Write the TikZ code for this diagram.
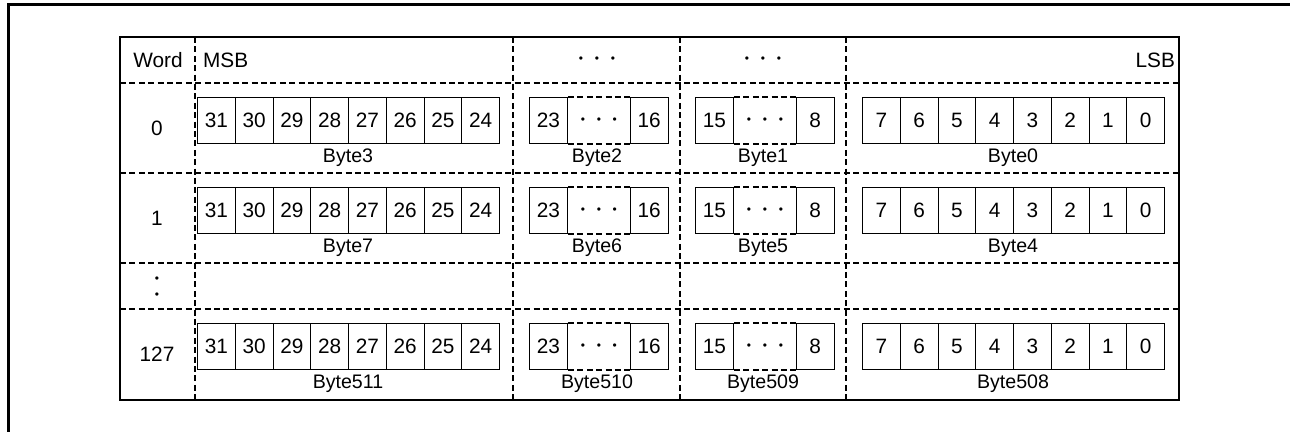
\documentclass[tikz,border=0pt]{standalone}
\usepackage{fontspec}
\setmainfont{Liberation Sans}
\usetikzlibrary{positioning}

\newcommand{\threedots}{{\fontsize{6}{8}\selectfont •\hspace{5.9pt}•\hspace{5.9pt}•}}

\begin{document}
\begin{tikzpicture}[x=0.5pt, y=-0.5pt,
        txt/.style={font=\fontsize{10.4}{12}\selectfont},
        bitbox/.style={draw, line width=0.6pt, minimum width=18.875pt, minimum height=23pt, inner sep=0pt, txt},
        gapbox/.style={minimum width=30.5pt, minimum height=23pt, inner sep=0pt, txt},
        bytelbl/.style={font=\fontsize{9.8}{11}\selectfont},
        gridline/.style={line width=1pt, dash pattern=on 3pt off 1.7pt},
        gapline/.style={line width=1pt, dash pattern=on 3pt off 1.7pt}]
        \useasboundingbox (0,0) rectangle (1290,432);
        % ==== FRAME ====
        \draw[line width=1.5pt] (8.5,432) -- (8.5,4.5) -- (1290,4.5);
        % ==== TABLE ====
        \draw[line width=0.7pt] (120,37) rectangle (1179,400);
        \foreach \yy in {83,173,263,309}
            \draw[gridline] (120,\yy) -- (1179,\yy);
        \foreach \xx in {195,513,680,846}
            \draw[gridline] (\xx,37) -- (\xx,400);
        % ==== HEADER ====
        \node[txt] (word) at (158,60) {Word};
        \node[txt, anchor=west] (msb) at (196,60) {MSB};
        \node[txt] (hd2) at (597,60) {\threedots};
        \node[txt] (hd1) at (763,60) {\threedots};
        \node[txt, anchor=east] (lsb) at (1182,60) {LSB};
        % ==== WORD NUMBERS ====
        \node[txt] (w0) at (157,128) {0};
        \node[txt] (w1) at (157,218) {1};
        \node[align=center, font=\fontsize{6}{8}\selectfont] (wdots) at (157,288) {•\\•};
        \node[txt] (w127) at (157,354) {127};
        % ==== BITS AND BYTES ====
        \foreach \r/\top/\n in {0/97/3, 1/187/7, 127/323/511}{
            \pgfmathtruncatemacro{\na}{\n-1}
            \pgfmathtruncatemacro{\nb}{\n-2}
            \pgfmathtruncatemacro{\nc}{\n-3}
            % upper byte
            \foreach \i in {0,...,7}{
                \pgfmathtruncatemacro{\bit}{31-\i}
                \node[bitbox, anchor=north west] (\r-b\bit) at ({197+\i*37.75},\top) {\bit};
            }
            \node[bytelbl] (\r-lbl\n) at (348,\top+61) {Byte\n};
            % second byte
            \node[bitbox, anchor=north west] (\r-b23) at (529,\top) {23};
            \node[gapbox, right=0pt of \r-b23] (\r-g2) {\threedots};
            \node[bitbox, right=0pt of \r-g2] (\r-b16) {16};
            \draw[gapline] (\r-g2.north west) -- (\r-g2.north east);
            \draw[gapline] (\r-g2.south west) -- (\r-g2.south east);
            \node[bytelbl] (\r-lbl\na) at (597,\top+61) {Byte\na};
            % third byte
            \node[bitbox, anchor=north west] (\r-b15) at (695,\top) {15};
            \node[gapbox, right=0pt of \r-b15] (\r-g1) {\threedots};
            \node[bitbox, right=0pt of \r-g1] (\r-b8) {8};
            \draw[gapline] (\r-g1.north west) -- (\r-g1.north east);
            \draw[gapline] (\r-g1.south west) -- (\r-g1.south east);
            \node[bytelbl] (\r-lbl\nb) at (763,\top+61) {Byte\nb};
            % lower byte
            \foreach \i in {0,...,7}{
                \pgfmathtruncatemacro{\bit}{7-\i}
                \node[bitbox, anchor=north west] (\r-b\bit) at ({862+\i*37.75},\top) {\bit};
            }
            \node[bytelbl] (\r-lbl\nc) at (1013,\top+61) {Byte\nc};
        }
\end{tikzpicture}
\end{document}
